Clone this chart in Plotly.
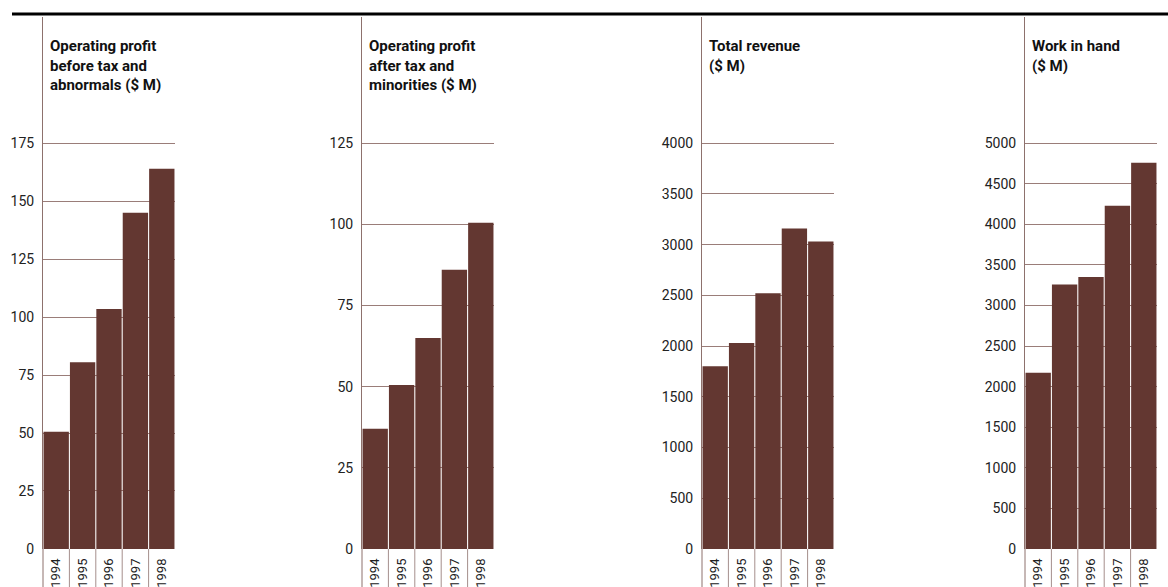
import plotly.graph_objects as go

# ---------------- data ----------------
years = ["1994", "1995", "1996", "1997", "1998"]
profit_before_tax = [50.5, 80.5, 103.5, 145, 164]
profit_after_tax = [37, 50.5, 65, 86, 100.5]
total_revenue = [1800, 2030, 2520, 3160, 3030]
work_in_hand = [2170, 3260, 3350, 4230, 4760]

titles = [
    "Operating profit<br>before tax and<br>abnormals ($ M)",
    "Operating profit<br>after tax and<br>minorities ($ M)",
    "Total revenue<br>($ M)",
    "Work in hand<br>($ M)",
]
tick_tops = [175, 125, 4000, 5000]
tick_steps = [25, 25, 500, 500]
series = [profit_before_tax, profit_after_tax, total_revenue, work_in_hand]

# ---------------- layout geometry (reference pixels) ----------------
W, H = 1168, 587
FIG_H = 596  # page height that is captured into the 587-px picture
panel_px = [(43, 175), (362, 494), (702, 834), (1025, 1157)]
y_zero_px, y_axis_top_px, y_toptick_px = 548, 17, 143

BAR = "#633731"
AXIS = "#8d716d"
GRID = "#9a7d79"
SEP = "#a58f8c"
FONT = "Roboto, Liberation Sans, sans-serif"

fig = go.Figure()
shapes = []
annotations = []

dom_y = [1 - y_zero_px / H, 1 - y_axis_top_px / H]
plot_h = y_zero_px - y_axis_top_px

for i, (vals, title, ttop, tstep, (x0, x1)) in enumerate(
        zip(series, titles, tick_tops, tick_steps, panel_px)):
    n = i + 1
    xa = "x" if n == 1 else f"x{n}"
    ya = "y" if n == 1 else f"y{n}"
    fig.add_trace(go.Bar(x=years, y=vals, marker_color=BAR, marker_line_width=0,
                         xaxis=xa, yaxis=ya, showlegend=False, hoverinfo="x+y"))
    ymax = ttop * plot_h / (y_zero_px - y_toptick_px)
    tickvals = list(range(0, ttop + 1, tstep))
    xkey = "xaxis" if n == 1 else f"xaxis{n}"
    ykey = "yaxis" if n == 1 else f"yaxis{n}"
    fig.update_layout(**{
        xkey: dict(domain=[x0 / W, x1 / W], anchor=ya, type="category",
                   range=[-0.5, len(years) - 0.5], showline=False, showgrid=False,
                   zeroline=False, ticks="", tickangle=-90,
                   tickfont=dict(family=FONT, size=13, color="#222"),
                   ticklabelstandoff=6, fixedrange=True),
        ykey: dict(domain=dom_y, anchor=xa, range=[0, ymax], tickvals=tickvals,
                   showline=True, linecolor=AXIS, linewidth=1,
                   showgrid=True, gridcolor=GRID, gridwidth=1, zeroline=False,
                   ticks="", ticklabelstandoff=5,
                   tickfont=dict(family=FONT, size=14, color="#222"),
                   fixedrange=True),
    })
    # category separators below the axis
    for k in range(len(years)):
        shapes.append(dict(type="line", xref=f"{xa} domain", yref=f"{ya} domain",
                           x0=k / len(years), x1=k / len(years),
                           y0=-(H - y_zero_px + 2) / plot_h, y1=0,
                           line=dict(color=AXIS if k == 0 else SEP, width=1)))
    annotations.append(dict(text=f"<b>{title}</b>", xref=f"{xa} domain",
                            yref=f"{ya} domain", x=5 / (x1 - x0), y=(y_zero_px - 35) / plot_h,
                            xanchor="left", yanchor="top", align="left", showarrow=False,
                            font=dict(family=FONT, size=15, color="#111")))

# thick rule at top
shapes.append(dict(type="line", xref="paper", yref="paper", x0=12 / W, x1=1,
                   y0=1 - 14 / H, y1=1 - 14 / H, line=dict(color="#000", width=3)))

fig.update_layout(width=W, height=FIG_H, autosize=False, margin=dict(l=0, r=0, t=0, b=0),
                  paper_bgcolor="white", plot_bgcolor="white", bargap=0.04,
                  shapes=shapes, annotations=annotations)

post = (
    "document.documentElement.style.margin='0';"
    "document.body.style.margin='0';document.body.style.overflow='hidden';"
)
fig.write_html("out.html", config={"displayModeBar": False, "responsive": False},
               post_script=post)
